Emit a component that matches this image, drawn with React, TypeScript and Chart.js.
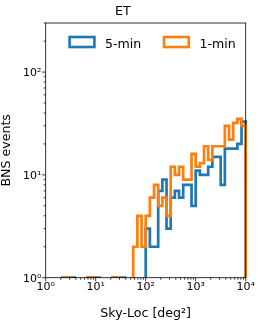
import React, { useEffect, useRef } from 'react';
import { Chart, registerables } from 'chart.js';

Chart.register(...registerables);

// ---------- texts ----------
const TITLE = 'ET';
const X_LABEL = 'Sky-Loc [deg²]';
const Y_LABEL = 'BNS events';
const SERIES_LABELS = ['5-min', '1-min'];
const SERIES_COLORS = ['#1f77b4', '#ff7f0e'];

// ---------- histogram binning: 48 log-spaced bins between 10^0 and 10^4 ----------
const LOG_MIN = 0;
const LOG_MAX = 4;
const N_BINS = 48;

// ---------- counts per bin ----------
const counts5min = [
  0, 0, 0, 0, 1, 1, 1, 0, 0, 0, 1, 1,
  1, 0, 0, 0, 1, 1, 1, 0, 0, 0, 0, 0,
  3, 2, 2, 7, 9, 3, 6, 7, 6, 8, 8, 5,
  11, 10, 10, 12, 15, 15, 8, 18, 18, 18, 20, 33,
];
const counts1min = [
  0, 0, 0, 0, 1, 1, 0, 0, 0, 0, 1, 1,
  0, 0, 0, 0, 1, 1, 0, 0, 0, 2, 4, 2,
  4, 6, 8, 5, 6, 4, 12, 10, 12, 9, 9, 16,
  12, 13, 19, 14, 19, 19, 19, 30, 22, 32, 35, 30,
];

// ---------- axes ----------
const X_MIN = 1;
const X_MAX = 10000;
const Y_MIN = 1;
const Y_MAX = 300;
const xMajorTicks = [1, 10, 100, 1000, 10000];
const xTickLabels = ['10⁰', '10¹', '10²', '10³', '10⁴'];
const yMajorTicks = [1, 10, 100];
const yTickLabels = ['10⁰', '10¹', '10²'];

const FONT = '"DejaVu Sans", sans-serif';
const FLOOR = 0.01; // zero counts fall below the log axis

function binEdges(): number[] {
  const out: number[] = [];
  for (let i = 0; i <= N_BINS; i++) out.push(Math.pow(10, LOG_MIN + ((LOG_MAX - LOG_MIN) * i) / N_BINS));
  return out;
}

function stepPoints(counts: number[]) {
  const edges = binEdges();
  const pts: { x: number; y: number }[] = [{ x: edges[0], y: FLOOR }];
  counts.forEach((c, i) => pts.push({ x: edges[i], y: c > 0 ? c : FLOOR }));
  pts.push({ x: edges[N_BINS], y: FLOOR });
  return pts;
}

const decorPlugin = {
  id: 'decor',
  afterDatasetsDraw(chart: any) {
    const { ctx, chartArea: a } = chart;
    const xs = chart.scales.x;
    const ys = chart.scales.y;
    ctx.save();
    // frame
    ctx.strokeStyle = '#000';
    ctx.lineWidth = 0.8;
    ctx.strokeRect(a.left, a.top, a.right - a.left, a.bottom - a.top);
    // tick marks
    const MAJOR = 3.5;
    const MINOR = 2;
    ctx.beginPath();
    for (let e = LOG_MIN; e <= LOG_MAX; e++) {
      for (let m = 1; m < 10; m++) {
        const v = m * Math.pow(10, e);
        if (v > X_MAX) break;
        const px = xs.getPixelForValue(v);
        const len = m === 1 ? MAJOR : MINOR;
        ctx.moveTo(px, a.bottom);
        ctx.lineTo(px, a.bottom + len);
      }
    }
    for (let e = 0; e <= 2; e++) {
      for (let m = 1; m < 10; m++) {
        const v = m * Math.pow(10, e);
        if (v > Y_MAX) break;
        const py = ys.getPixelForValue(v);
        const len = m === 1 ? MAJOR : MINOR;
        ctx.moveTo(a.left, py);
        ctx.lineTo(a.left - len, py);
      }
    }
    ctx.stroke();

    // legend (no frame, inside axes, upper centre)
    ctx.font = `12.6px ${FONT}`;
    ctx.textBaseline = 'alphabetic';
    ctx.textAlign = 'left';
    const lw = 2.6;
    const boxW = 24.8;
    const boxH = 10;
    const boxTop = a.top + 12.7 + lw / 2;
    const baseline = a.top + 24.7;
    let xOuter = a.left + 22.6;
    chart.data.datasets.forEach((ds: any) => {
      ctx.lineWidth = lw;
      ctx.strokeStyle = ds.borderColor;
      ctx.fillStyle = '#fff';
      ctx.fillRect(xOuter + lw / 2, boxTop, boxW, boxH);
      ctx.strokeRect(xOuter + lw / 2, boxTop, boxW, boxH);
      const tx = xOuter + boxW + lw + 9.3;
      ctx.fillStyle = '#000';
      ctx.fillText(ds.label, tx, baseline);
      xOuter = tx + ctx.measureText(ds.label).width + 21.4;
    });
    ctx.restore();
  },
};

export default function App() {
  const ref = useRef<HTMLCanvasElement | null>(null);

  useEffect(() => {
    if (!ref.current) return;
    const chart = new Chart(ref.current, {
      type: 'line',
      data: {
        datasets: [
          {
            label: SERIES_LABELS[0],
            data: stepPoints(counts5min),
            borderColor: SERIES_COLORS[0],
            backgroundColor: SERIES_COLORS[0],
            borderWidth: 2.7,
            stepped: true,
            pointRadius: 0,
            fill: false,
            order: 1,
            clip: { left: 0, top: 0, right: 2, bottom: 0 } as any,
          },
          {
            label: SERIES_LABELS[1],
            data: stepPoints(counts1min),
            borderColor: SERIES_COLORS[1],
            backgroundColor: SERIES_COLORS[1],
            borderWidth: 2.7,
            stepped: true,
            pointRadius: 0,
            fill: false,
            order: 0,
            clip: { left: 0, top: 0, right: 2, bottom: 0 } as any,
          },
        ],
      },
      options: {
        animation: false,
        responsive: false,
        devicePixelRatio: 1,
        layout: { padding: { left: 0, right: 28.3, top: 0, bottom: 0 } },
        plugins: {
          legend: { display: false },
          tooltip: { enabled: false },
          title: {
            display: true,
            text: TITLE,
            color: '#000',
            font: { family: FONT, size: 12.6, weight: 'normal' as any, lineHeight: 1.2 },
            padding: { top: 4, bottom: 3.9 },
          },
        },
        scales: {
          x: {
            type: 'logarithmic',
            min: X_MIN,
            max: X_MAX,
            grid: { display: false, drawTicks: false },
            border: { display: false },
            afterBuildTicks: (scale: any) => {
              scale.ticks = xMajorTicks.map((v) => ({ value: v }));
            },
            afterFit: (scale: any) => {
              scale.height = 49.3;
            },
            ticks: {
              autoSkip: false,
              maxRotation: 0,
              padding: 2.6,
              color: '#000',
              font: { family: FONT, size: 11 },
              callback: (v: any) => {
                const i = xMajorTicks.indexOf(Number(v));
                return i >= 0 ? xTickLabels[i] : '';
              },
            },
            title: {
              display: true,
              text: X_LABEL,
              color: '#000',
              font: { family: FONT, size: 12.6, lineHeight: 1.2 },
              padding: { top: 0, bottom: 5.5 },
            },
          },
          y: {
            type: 'logarithmic',
            min: Y_MIN,
            max: Y_MAX,
            grid: { display: false, drawTicks: false },
            border: { display: false },
            afterBuildTicks: (scale: any) => {
              scale.ticks = yMajorTicks.map((v) => ({ value: v }));
            },
            afterFit: (scale: any) => {
              scale.width = 45.7;
            },
            ticks: {
              autoSkip: false,
              padding: 4.3,
              labelOffset: 1.2,
              color: '#000',
              font: { family: FONT, size: 11 },
              callback: (v: any) => {
                const i = yMajorTicks.indexOf(Number(v));
                return i >= 0 ? yTickLabels[i] : '';
              },
            },
            title: {
              display: true,
              text: Y_LABEL,
              color: '#000',
              font: { family: FONT, size: 12.6, lineHeight: 1.06 },
              padding: { top: 0, bottom: 0 },
            },
          },
        },
      },
      plugins: [decorPlugin],
    });
    return () => chart.destroy();
  }, []);

  return (
    <div style={{ position: 'fixed', left: 0, top: 0, width: 274, height: 327, background: '#fff' }}>
      <canvas ref={ref} width={274} height={327} style={{ display: 'block' }} />
    </div>
  );
}
